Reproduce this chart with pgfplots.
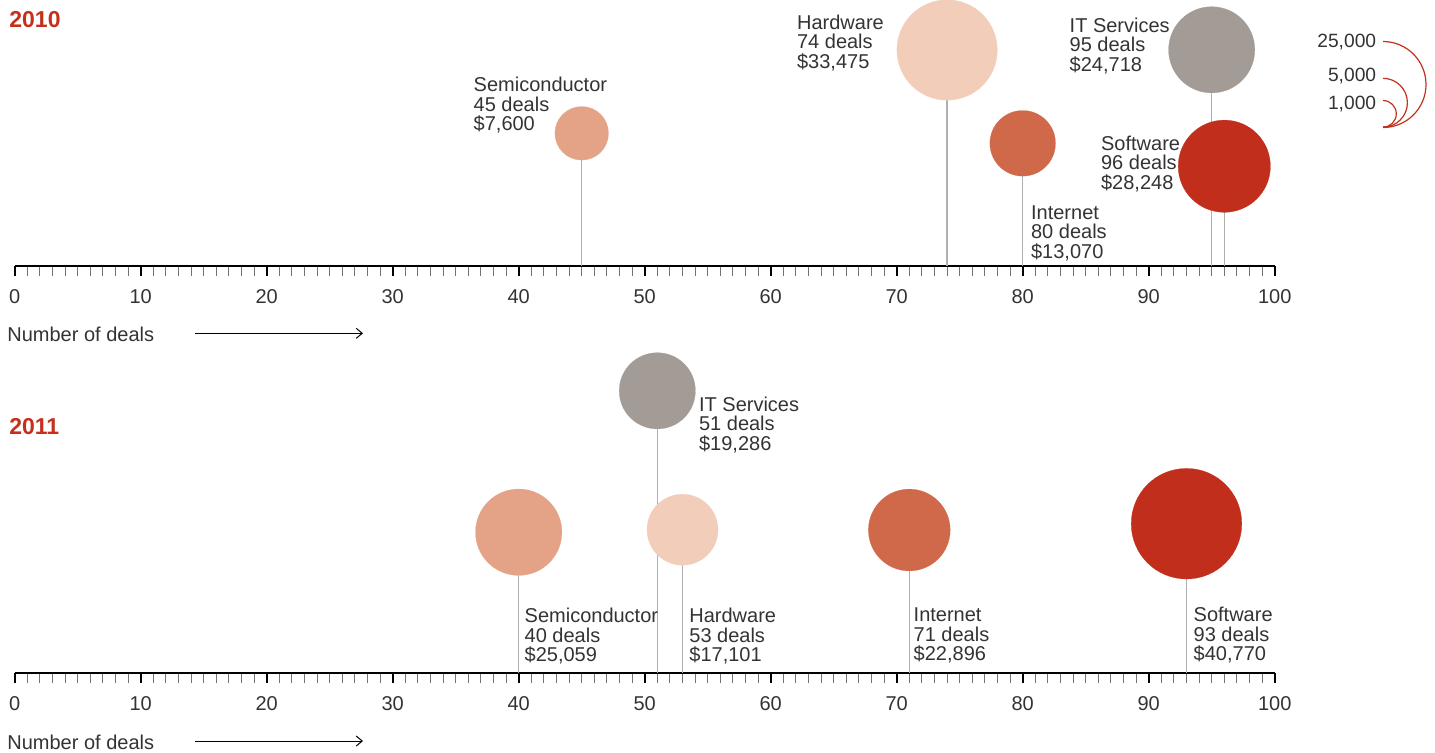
\documentclass[border=0pt]{standalone}
\usepackage{fontspec}
\setmainfont{Liberation Sans}
\usepackage{pgfplots}
\pgfplotsset{compat=1.18}
\usetikzlibrary{arrows.meta}
\definecolor{cSemi}{HTML}{E4A386}
\definecolor{cHard}{HTML}{F1CDBA}
\definecolor{cInt}{HTML}{D0694A}
\definecolor{cIT}{HTML}{A39B95}
\definecolor{cSoft}{HTML}{C12E1B}
\definecolor{cRed}{HTML}{C4301C}
\definecolor{cTxt}{HTML}{333333}
\definecolor{cStem}{HTML}{B0B0B0}
\newcommand\lblfont{\fontsize{10}{9.85}\selectfont}
\pgfplotsset{
  dealaxis/.style={
    scale only axis, width=630pt, xmin=0, xmax=100, ymin=0,
    enlargelimits=false, clip=false, anchor=origin,
    axis x line*=bottom, axis y line=none,
    axis line style={-, line width=0.6pt, black},
    xtick={0,10,...,100}, minor x tick num=9, tick align=outside,
    major tick length=5pt, minor tick length=5pt,
    major x tick style={line width=0.9pt, black},
    minor x tick style={line width=0.45pt, black!55},
    xticklabel style={font=\lblfont, text=cTxt, anchor=north, inner sep=0pt, yshift=-6.5pt},
    /pgf/number format/assume math mode=true,
  },
  stem/.style={ycomb, no marks, cStem, line width=0.7pt},
}
\newcommand\bubble[4]{\addplot[only marks, mark=*, mark size=#3pt, color=#4, mark options={solid, draw=#4, fill=#4, line width=0.1pt}] coordinates {(#1,#2)};}
\newcommand\lbl[5]{%
  \node[anchor=base west, inner sep=0pt, text=cTxt, font=\lblfont] at (#1,#2) {#3};
  \node[anchor=base west, inner sep=0pt, text=cTxt, font=\lblfont] at ({#1},{#2+19.6}) {#4};
  \node[anchor=base west, inner sep=0pt, text=cTxt, font=\lblfont] at ({#1},{#2+39.2}) {#5};}
\begin{document}
\begin{tikzpicture}
\path[use as bounding box] (0,0) rectangle (717.5pt,-376pt);
% ---------------- 2010 ----------------
\begin{axis}[dealaxis, at={(7.35pt,-133pt)}, ymax=266, height=133pt]
  % stems
  \addplot[stem] coordinates {(45,132.7)};
  \addplot[stem] coordinates {(74,216)};
  \addplot[stem] coordinates {(80,122.7)};
  \addplot[stem] coordinates {(95,216.2)};
  \addplot[stem] coordinates {(96,99.8)};
  % bubbles (deals, height, radius)
  \bubble{45}{132.7}{13.4}{cSemi}
  \bubble{74}{216}{25.1}{cHard}
  \bubble{80}{122.7}{16.4}{cInt}
  \bubble{95}{216.2}{21.55}{cIT}
  \bubble{96}{99.8}{23.05}{cSoft}
\end{axis}
% ---------------- 2011 ----------------
\begin{axis}[dealaxis, at={(7.35pt,-336.5pt)}, ymax=340, height=170pt]
  \addplot[stem] coordinates {(40,140.8)};
  \addplot[stem] coordinates {(51,282.2)};
  \addplot[stem] coordinates {(53,143.3)};
  \addplot[stem] coordinates {(71,143)};
  \addplot[stem] coordinates {(93,149.3)};
  \bubble{40}{140.8}{21.6}{cSemi}
  \bubble{51}{282.2}{19.05}{cIT}
  \bubble{53}{143.3}{17.75}{cHard}
  \bubble{71}{143}{20.45}{cInt}
  \bubble{93}{149.3}{27.65}{cSoft}
\end{axis}
\begin{scope}[x=0.5pt,y=-0.5pt]
  % titles
  \node[anchor=base west, inner sep=0pt, text=cRed, font=\fontsize{11.5}{12}\selectfont\bfseries] at (9,27) {2010};
  \node[anchor=base west, inner sep=0pt, text=cRed, font=\fontsize{11.5}{12}\selectfont\bfseries] at (9,434) {2011};
  % labels 2010
  \lbl{473.3}{91.7}{Semiconductor}{45 deals}{\$7,600}
  \lbl{796.7}{29.3}{Hardware}{74 deals}{\$33,475}
  \lbl{1069.3}{32.3}{IT Services}{95 deals}{\$24,718}
  \lbl{1100.7}{150}{Software}{96 deals}{\$28,248}
  \lbl{1030.7}{219}{Internet}{80 deals}{\$13,070}
  % labels 2011
  \lbl{698.7}{411}{IT Services}{51 deals}{\$19,286}
  \lbl{524.3}{622.7}{Semiconductor}{40 deals}{\$25,059}
  \lbl{689}{622.7}{Hardware}{53 deals}{\$17,101}
  \lbl{913.3}{621.7}{Internet}{71 deals}{\$22,896}
  \lbl{1193.3}{621.7}{Software}{93 deals}{\$40,770}
  % axis captions
  \node[anchor=base west, inner sep=0pt, text=cTxt, font=\lblfont] at (7,341.7) {Number of deals};
  \draw[line width=0.5pt, -{Straight Barb[length=3pt,width=5pt]}] (195,333.3) -- (363,333.3);
  \node[anchor=base west, inner sep=0pt, text=cTxt, font=\lblfont] at (7,749.5) {Number of deals};
  \draw[line width=0.5pt, -{Straight Barb[length=3pt,width=5pt]}] (195,741) -- (363,741);
  % size key
  \node[anchor=base east, inner sep=0pt, text=cTxt, font=\fontsize{9.6}{10}\selectfont] at (1376.5,47) {25,000};
  \node[anchor=base east, inner sep=0pt, text=cTxt, font=\fontsize{9.6}{10}\selectfont] at (1376.5,81.5) {5,000};
  \node[anchor=base east, inner sep=0pt, text=cTxt, font=\fontsize{9.6}{10}\selectfont] at (1376.5,109) {1,000};
  \draw[cRed, line width=0.6pt] (1383,41.5) arc[start angle=-90, end angle=90, radius=43];
  \draw[cRed, line width=0.6pt] (1383,78.3) arc[start angle=-90, end angle=90, radius=24.4];
  \draw[cRed, line width=0.6pt] (1383,100.5) arc[start angle=-90, end angle=90, radius=13.3];
\end{scope}
\end{tikzpicture}
\end{document}
